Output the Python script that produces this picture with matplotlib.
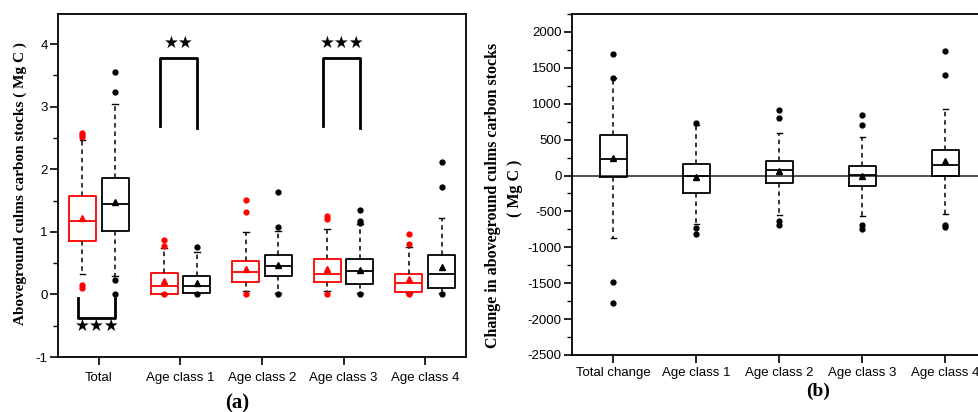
import numpy as np
import matplotlib.pyplot as plt
from matplotlib.ticker import MultipleLocator

plt.rcParams['font.family'] = ['Liberation Sans', 'DejaVu Sans']
plt.rcParams['axes.unicode_minus'] = False

# ---- panel (a): aboveground culms carbon stocks (Mg C), red vs black series
groups_a = ['Total', 'Age class 1', 'Age class 2', 'Age class 3', 'Age class 4']

red_q1 = [0.85, 0.00, 0.20, 0.20, 0.04]
red_med = [1.18, 0.14, 0.36, 0.33, 0.18]
red_q3 = [1.57, 0.35, 0.54, 0.56, 0.33]
red_mean = [1.22, 0.21, 0.40, 0.40, 0.24]
red_lo = [0.32, 0.00, 0.05, 0.05, 0.02]
red_hi = [2.47, 0.74, 1.00, 1.04, 0.75]
red_fliers = [[2.58, 2.55, 2.51, 0.15, 0.11], [0.87, 0.78, 0.00],
              [1.51, 1.31, 0.01], [1.25, 1.20, 0.00], [0.96, 0.80, 0.00]]

blk_q1 = [1.01, 0.02, 0.29, 0.16, 0.10]
blk_med = [1.45, 0.14, 0.46, 0.38, 0.33]
blk_q3 = [1.86, 0.29, 0.63, 0.57, 0.63]
blk_mean = [1.47, 0.19, 0.47, 0.39, 0.44]
blk_lo = [0.30, 0.02, 0.03, 0.03, 0.03]
blk_hi = [3.05, 0.67, 1.01, 1.12, 1.22]
blk_fliers = [[3.55, 3.23, 0.23, 0.01], [0.76, 0.00], [1.64, 1.08, 0.00],
              [1.35, 1.17, 1.14, 0.00], [2.11, 1.72, 0.00]]

# ---- panel (b): change in aboveground culms carbon stocks (Mg C)
groups_b = ['Total change', 'Age class 1', 'Age class 2', 'Age class 3', 'Age class 4']
chg_q1 = [-18, -240, -106, -148, 0]
chg_med = [236, 0, 74, 14, 144]
chg_q3 = [569, 157, 199, 130, 361]
chg_mean = [245, -18, 60, 0, 199]
chg_lo = [-870, -680, -555, -560, -537]
chg_hi = [1352, 700, 597, 537, 926]
chg_fliers = [[1690, 1360, -1490, -1773], [730, -727, -810], [907, 805, -639, -694],
              [838, 704, -690, -745], [1736, 1394, -694, -722]]


def make_stats(q1, med, q3, mean, lo, hi, fliers):
    return [dict(q1=a, med=b, q3=c, mean=d, whislo=e, whishi=f, fliers=g)
            for a, b, c, d, e, f, g in zip(q1, med, q3, mean, lo, hi, fliers)]


def draw(ax, stats, pos, color, width):
    ax.bxp(stats, positions=pos, widths=width, showmeans=True, capwidths=0.07,
           boxprops=dict(color=color, linewidth=1.3),
           medianprops=dict(color=color, linewidth=1.3),
           whiskerprops=dict(color='black', linewidth=1.1, linestyle=(0, (3, 2.5))),
           capprops=dict(color='black', linewidth=1.0),
           meanprops=dict(marker='^', markerfacecolor=color, markeredgecolor=color, markersize=5),
           flierprops=dict(marker='o', markerfacecolor=color, markeredgecolor=color, markersize=3.5))


def style(ax, xpad):
    for s in ax.spines.values():
        s.set_linewidth(1.3)
    ax.tick_params(axis='both', which='major', direction='out', length=5.5, width=1.2,
                   labelsize=9.5, pad=2)
    ax.tick_params(axis='x', which='major', pad=xpad)
    ax.tick_params(axis='y', which='minor', direction='out', length=3.5, width=1.0)
    ax.tick_params(axis='x', which='minor', bottom=False)
    ax.tick_params(right=False, top=False)


fig = plt.figure(figsize=(9.79, 4.12), dpi=100)
W, H = 979, 412

# panel (a)
ax1 = fig.add_axes([58 / W, 1 - 357 / H, (466 - 58) / W, (357 - 14) / H])
x = np.arange(1, len(groups_a) + 1)
draw(ax1, make_stats(red_q1, red_med, red_q3, red_mean, red_lo, red_hi, red_fliers),
     x - 0.2, 'red', 0.33)
draw(ax1, make_stats(blk_q1, blk_med, blk_q3, blk_mean, blk_lo, blk_hi, blk_fliers),
     x + 0.2, 'black', 0.33)
ax1.set_xlim(0.5, 5.5)
ax1.set_ylim(-1, 4.48)
ax1.set_xticks(x)
ax1.set_xticklabels(groups_a)
ax1.set_yticks([-1, 0, 1, 2, 3, 4])
ax1.yaxis.set_minor_locator(MultipleLocator(0.5))
style(ax1, 5)

# significance brackets
ax1.plot([x[0] - 0.25, x[0] - 0.25, x[0] + 0.2, x[0] + 0.2], [-0.06, -0.37, -0.37, -0.06],
         color='black', lw=2)
ax1.text(x[0] - 0.02, -0.5, '★★★', ha='center', va='center', fontsize=12,
         family='DejaVu Sans')
for i, stars in [(1, '★★'), (3, '★★★')]:
    ax1.plot([x[i] - 0.25, x[i] - 0.25, x[i] + 0.2, x[i] + 0.2], [2.69, 3.78, 3.78, 2.66],
             color='black', lw=2)
    ax1.text(x[i] - 0.02, 4.02, stars, ha='center', va='center', fontsize=12,
             family='DejaVu Sans')

# panel (b)
ax2 = fig.add_axes([572 / W, 1 - 355 / H, 415 / W, (355 - 14) / H])
xb = np.arange(1, len(groups_b) + 1)
draw(ax2, make_stats(chg_q1, chg_med, chg_q3, chg_mean, chg_lo, chg_hi, chg_fliers),
     xb, 'black', 0.32)
ax2.axhline(0, color='#333333', lw=1.2, zorder=1)
ax2.set_xlim(0.5, 5.5)
ax2.set_ylim(-2500, 2250)
ax2.set_xticks(xb)
ax2.set_xticklabels(groups_b)
ax2.set_yticks(np.arange(-2500, 2001, 500))
ax2.yaxis.set_minor_locator(MultipleLocator(250))
style(ax2, 3)

# axis titles and panel labels
serif = ['Liberation Serif', 'DejaVu Serif']
fig.text(20 / W, 1 - 184 / H, 'Aboveground culms carbon stocks ( Mg C )', rotation=90,
         ha='center', va='center', fontsize=11, fontweight='bold', family=serif)
fig.text(493 / W, 1 - 195 / H, 'Change in aboveground culms carbon stocks', rotation=90,
         ha='center', va='center', fontsize=11.5, fontweight='bold', family=serif)
fig.text(515 / W, 1 - 188 / H, '( Mg C )', rotation=90,
         ha='center', va='center', fontsize=11.5, fontweight='bold', family=serif)
fig.text(237 / W, 1 - 403 / H, '(a)', ha='center', va='center', fontsize=15,
         fontweight='bold', family=serif)
fig.text(818 / W, 1 - 391 / H, '(b)', ha='center', va='center', fontsize=14,
         fontweight='bold', family=serif)

fig.savefig('out.png', dpi=100)
